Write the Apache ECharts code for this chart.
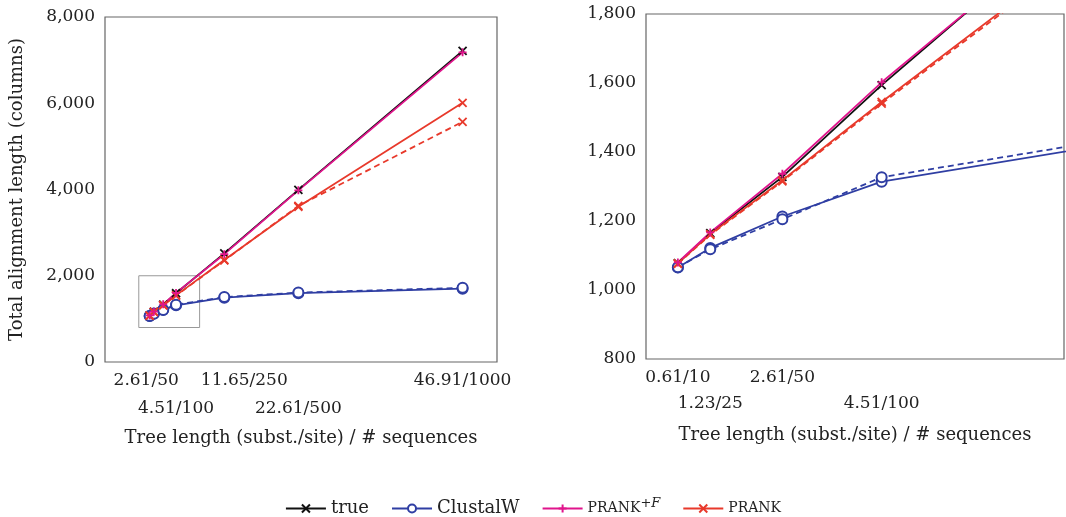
<!DOCTYPE html>
<html>
<head>
<meta charset="utf-8">
<script src="https://cdn.jsdelivr.net/npm/echarts@6/dist/echarts.min.js"></script>
<style>
  html, body { margin: 0; padding: 0; background: #fff; }
  #main { width: 1066px; height: 517px; }
</style>
</head>
<body>
<div id="main"></div>
<script>
// tree length (subst./site) for each data set
const treeLen = [0.61, 1.23, 2.61, 4.51, 11.65, 22.61, 46.91];
// total alignment length (columns)
const trueLen      = [1078, 1165, 1328, 1594, 2520, 3990, 7215];
const clustalW     = [1065, 1122, 1213, 1314, 1492, 1595, 1700];
const clustalWDash = [1066, 1118, 1205, 1327, 1505, 1610, 1720];
const prankF       = [1080, 1167, 1337, 1602, 2500, 3980, 7180];
const prank        = [1077, 1162, 1318, 1545, 2365, 3600, 6010];
const prankDash    = [1076, 1160, 1315, 1540, 2355, 3620, 5570];

// tick labels
const leftTopTicks = [2.61, 11.65, 46.91];
const leftBotTicks = [4.51, 22.61];
const rightTopTicks = [0.61, 2.61];
const rightBotTicks = [1.23, 4.51];
const tickText = {
  0.61: '0.61/10', 1.23: '1.23/25', 2.61: '2.61/50', 4.51: '4.51/100',
  11.65: '11.65/250', 22.61: '22.61/500', 46.91: '46.91/1000'
};

const FONT = 'DejaVu Serif';
const FS = 17;
const FN = 18;
const TXT = '#222';
const C_TRUE = '#111111';
const C_CLU = '#2f3ea3';
const C_PF = '#e0148c';
const C_PR = '#e8392b';
const CROSS = 'path://M0,0L10,10M10,0L0,10';
const PLUS = 'path://M5,0L5,10M0,5L10,5';

function pairs(ys) {
  return treeLen.map((x, i) => [x, ys[i]]);
}

function fmtNum(v) {
  return String(v).replace(/\B(?=(\d{3})+(?!\d))/g, ',');
}

const chart = echarts.init(document.getElementById('main'));

function xAxisPair(gridIndex, min, max, topTicks, botTicks, shiftRich) {
  const common = {
    type: 'value', gridIndex: gridIndex, min: min, max: max, position: 'bottom',
    axisLine: { show: false }, axisTick: { show: false }, splitLine: { show: false }
  };
  return [
    Object.assign({}, common, {
      name: 'Tree length (subst./site) / # sequences',
      nameLocation: 'middle', nameGap: 67,
      nameTextStyle: { fontFamily: FONT, fontSize: FN, color: TXT },
      axisLabel: {
        customValues: topTicks, margin: 10,
        fontFamily: FONT, fontSize: FS, color: TXT,
        formatter: function (v) {
          const t = tickText[v];
          if (shiftRich && v === 2.61) return '{l|' + t + '}';
          if (shiftRich && v === 11.65) return '{r|' + t + '}';
          return t;
        },
        rich: {
          l: { fontFamily: FONT, fontSize: FS, color: TXT, padding: [0, 34, 0, 0] },
          r: { fontFamily: FONT, fontSize: FS, color: TXT, padding: [0, 0, 0, 40] }
        }
      }
    }),
    Object.assign({}, common, {
      axisLabel: {
        customValues: botTicks, margin: 38,
        fontFamily: FONT, fontSize: FS, color: TXT,
        formatter: function (v) { return tickText[v]; }
      }
    })
  ];
}

const lx = xAxisPair(0, -6, 52, leftTopTicks, leftBotTicks, true);
const rx = xAxisPair(1, 0, 8, rightTopTicks, rightBotTicks, false);
rx[1].axisLabel.margin = 36;

function mkSeries(name, ys, color, symbol, dashed, xi, yi) {
  const isCircle = symbol === 'emptyCircle';
  return {
    name: name, type: 'line', data: pairs(ys),
    xAxisIndex: xi, yAxisIndex: yi,
    symbol: symbol, symbolSize: isCircle ? 10 : 8,
    showAllSymbol: true,
    lineStyle: { color: color, width: 1.8, type: dashed ? [6, 4] : 'solid' },
    itemStyle: { color: color, borderColor: color, borderWidth: 1.8 },
    emphasis: { disabled: true },
    animation: false
  };
}

const series = [];
[[0, 0], [2, 1]].forEach(function (ax) {
  const xi = ax[0], yi = ax[1];
  series.push(mkSeries('true', trueLen, C_TRUE, CROSS, false, xi, yi));
  series.push(mkSeries('ClustalW', clustalW, C_CLU, 'emptyCircle', false, xi, yi));
  series.push(mkSeries('ClustalW dashed', clustalWDash, C_CLU, 'emptyCircle', true, xi, yi));
  series.push(mkSeries('PRANK dashed', prankDash, C_PR, CROSS, true, xi, yi));
  series.push(mkSeries('PRANK', prank, C_PR, CROSS, false, xi, yi));
  series.push(mkSeries('PRANK+F', prankF, C_PF, PLUS, false, xi, yi));
});

// zoom rectangle in the left panel
series[0].markArea = {
  silent: true,
  itemStyle: { color: 'rgba(0,0,0,0)', borderColor: '#999', borderWidth: 1 },
  data: [[{ coord: [-1, 800] }, { coord: [8, 2000] }]]
};

chart.setOption({
  backgroundColor: '#fff',
  animation: false,
  grid: [
    { left: 105, top: 17, width: 392, height: 345, show: true, borderColor: '#666', borderWidth: 1.2, backgroundColor: 'transparent' },
    { left: 646, top: 14, width: 418, height: 345, show: true, borderColor: '#666', borderWidth: 1.2, backgroundColor: 'transparent' }
  ],
  xAxis: [lx[0], lx[1], rx[0], rx[1]],
  yAxis: [
    {
      type: 'value', gridIndex: 0, min: 0, max: 8000, interval: 2000,
      name: 'Total alignment length (columns)', nameLocation: 'middle', nameGap: 79,
      nameTextStyle: { fontFamily: FONT, fontSize: FN, color: TXT },
      axisLine: { show: false }, axisTick: { show: false }, splitLine: { show: false },
      axisLabel: { margin: 10, fontFamily: FONT, fontSize: FS, color: TXT, formatter: fmtNum }
    },
    {
      type: 'value', gridIndex: 1, min: 800, max: 1800, interval: 200,
      axisLine: { show: false }, axisTick: { show: false }, splitLine: { show: false },
      axisLabel: { margin: 10, fontFamily: FONT, fontSize: FS, color: TXT, formatter: fmtNum }
    }
  ],
  legend: {
    left: 'center', top: 492,
    data: ['true', 'ClustalW', 'PRANK+F', 'PRANK'],
    itemWidth: 40, itemHeight: 10, itemGap: 22,
    textStyle: {
      fontFamily: FONT, fontSize: FN, color: TXT,
      rich: {
        sc: { fontFamily: FONT, fontSize: 14, color: TXT },
        sup: { fontFamily: FONT, fontSize: 13, color: TXT, fontStyle: 'italic', padding: [0, 0, 10, 0] }
      }
    },
    formatter: function (name) {
      if (name === 'PRANK+F') return '{sc|PRANK}{sup|+F}';
      if (name === 'PRANK') return '{sc|PRANK}';
      return name;
    }
  },
  series: series
});
</script>
</body>
</html>
